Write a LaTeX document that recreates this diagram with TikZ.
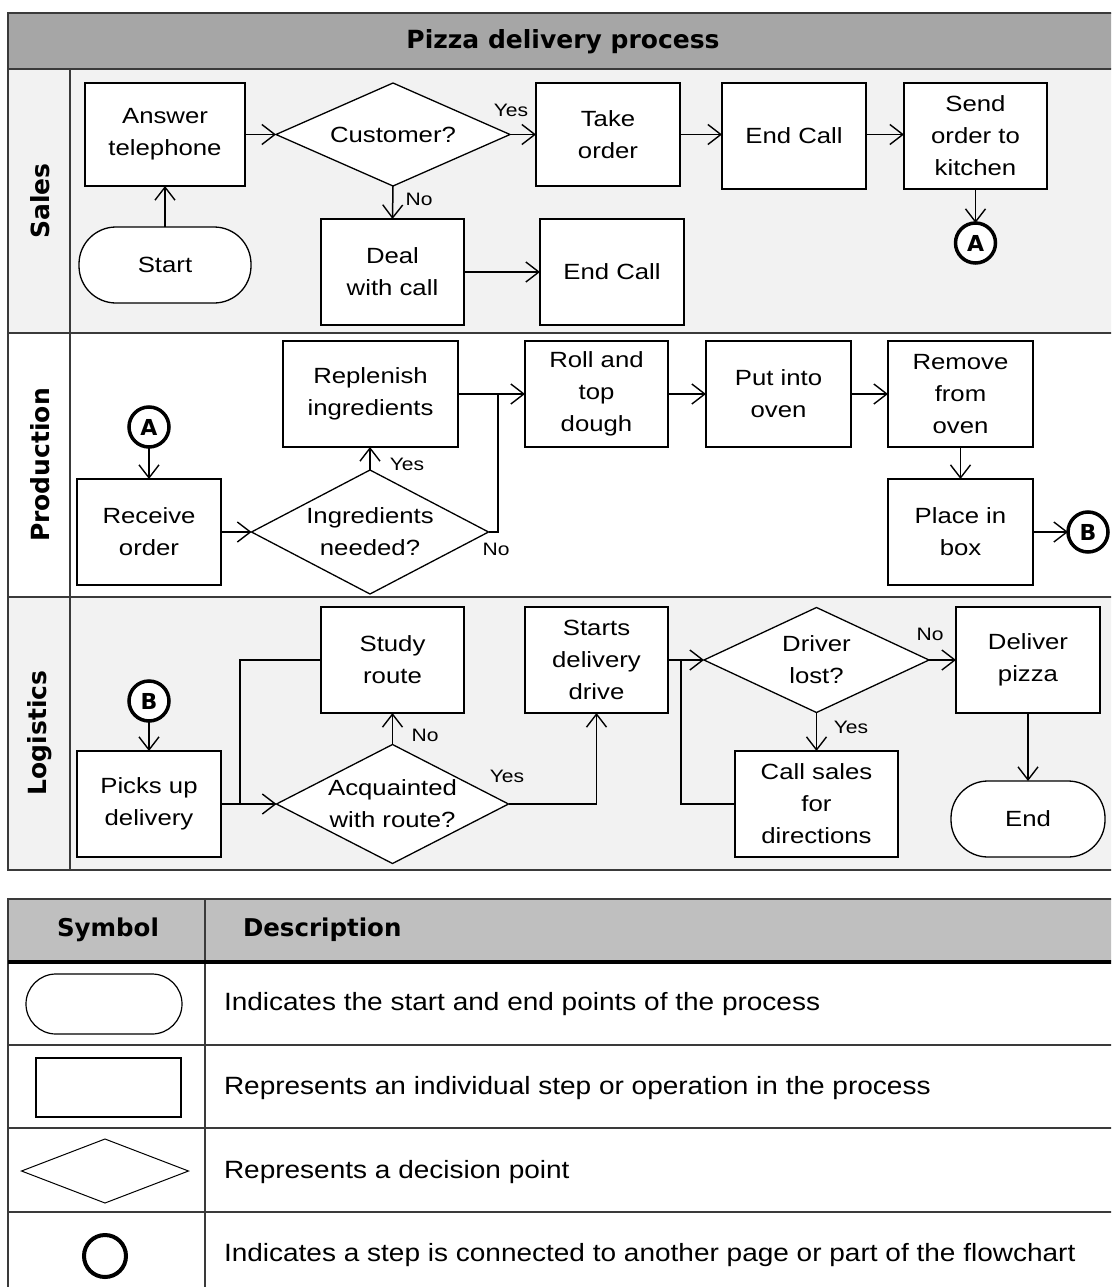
\documentclass[tikz,border=0pt]{standalone}
\usepackage{fontspec}
\setmainfont{Liberation Sans}
\newfontfamily\boxfont[FakeStretch=1.17]{Liberation Sans}
\newfontfamily\legfont[FakeStretch=1.12]{Liberation Sans}
\newfontfamily\headfont{DejaVu Sans}
\usetikzlibrary{shapes.geometric,arrows.meta,calc}

\definecolor{titlegray}{HTML}{A6A6A6}
\definecolor{lanegray}{HTML}{F2F2F2}
\definecolor{headgray}{HTML}{BFBFBF}
\definecolor{rulegray}{HTML}{3A3A3A}

\tikzset{
  every node/.style={inner sep=0pt, outer sep=0pt},
  txt/.style={font=\boxfont\fontsize{22}{32}\selectfont, align=center},
  stepbox/.style={draw, fill=white, line width=1.5pt, txt},
  terminal/.style={draw, fill=white, rounded corners=37pt, line width=1.3pt, txt},
  decision/.style={draw, fill=white, diamond, line width=1.3pt},
  conn/.style={circle, draw, fill=white, line width=3.5pt, minimum size=40pt,
               font=\headfont\bfseries\fontsize{22}{26}\selectfont},
  arr/.style={line width=1.5pt, -{Straight Barb[length=13pt,width=20pt,line width=1.4pt]}},
  lnk/.style={line width=1.5pt},
  tag/.style={font=\boxfont\fontsize{18}{22}\selectfont},
  lanename/.style={font=\headfont\bfseries\fontsize{25}{30}\selectfont, rotate=90},
  frame/.style={draw=rulegray, line width=2.5pt},
  headtxt/.style={font=\headfont\bfseries\fontsize{24.5}{30}\selectfont},
  legtxt/.style={font=\legfont\fontsize{25}{30}\selectfont, anchor=west},
}

\begin{document}
\begin{tikzpicture}[x=1pt, y=-1pt]
\useasboundingbox (0,0) rectangle (1111,1287);
\begin{scope}
\clip (0,0) rectangle (1111,1287);
\fill[white] (0,0) rectangle (1111,1287);

% ---------- swimlane frame ----------
\fill[titlegray] (8,13) rectangle (1130,69);
\fill[lanegray]  (8,69) rectangle (1130,333);
\fill[white]     (8,333) rectangle (1130,597);
\fill[lanegray]  (8,597) rectangle (1130,870);
\draw[frame] (1130,13) -- (8,13) -- (8,870) -- (1130,870);
\draw[frame] (8,69) -- (1130,69);
\draw[frame] (8,333) -- (1130,333);
\draw[frame] (8,597) -- (1130,597);
\draw[frame] (70,69) -- (70,870);

\node[headtxt, font=\headfont\bfseries\fontsize{25}{30}\selectfont] (title) at (563,42) {Pizza delivery process};
\node[lanename] (lsales) at (40,201) {Sales};
\node[lanename] (lprod)  at (40,465) {Production};
\node[lanename] (llog)   at (40,733) {Logistics};

% ---------- Sales ----------
\node[stepbox, minimum width=160pt, minimum height=103pt] (answer) at (165,134.5) {Answer\\telephone};
\node[decision, minimum width=234pt, minimum height=103pt,
      label={[txt]center:Customer?}] (cust) at (393,134.5) {};
\node[stepbox, minimum width=144pt, minimum height=103pt] (take) at (608,134.5) {Take\\order};
\node[stepbox, minimum width=144pt, minimum height=106pt] (endcall) at (794,136) {End Call};
\node[stepbox, minimum width=143pt, minimum height=106pt] (send) at (975.5,136) {Send\\order to\\kitchen};
\node[terminal, minimum width=172pt, minimum height=76pt] (start) at (165,265) {Start};
\node[stepbox, minimum width=143pt, minimum height=106pt] (deal) at (392.5,272) {Deal\\with call};
\node[stepbox, minimum width=144pt, minimum height=106pt] (endcall2) at (612,272) {End Call};
\node[conn] (outA) at (975.5,243) {A};

\draw[arr] (start.north) -- (answer.south);
\draw[arr] (answer.east) -- (cust.west);
\draw[arr] (cust.east) -- (take.west);
\draw[arr] (take.east) -- (endcall.west |- take.east);
\draw[arr] (endcall.east |- take.east) -- (send.west |- take.east);
\draw[arr] (send.south) -- (outA.north);
\draw[arr] (cust.south) -- (deal.north);
\draw[arr] (deal.east) -- (endcall2.west);
\node[tag] (yes1) at (511,110) {Yes};
\node[tag] (no1) at (419,199) {No};

% ---------- Production ----------
\node[conn] (inA) at (149,427) {A};
\node[stepbox, minimum width=144pt, minimum height=106pt] (recv) at (149,532) {Receive\\order};
\node[decision, minimum width=237pt, minimum height=124pt,
      label={[txt]center:Ingredients\\needed?}] (ingr) at (370,532) {};
\node[stepbox, minimum width=175pt, minimum height=106pt] (repl) at (370.5,394) {Replenish\\ingredients};
\node[stepbox, minimum width=143pt, minimum height=106pt] (roll) at (596.5,394) {Roll and\\top\\dough};
\node[stepbox, minimum width=145pt, minimum height=106pt] (oven) at (778.5,394) {Put into\\oven};
\node[stepbox, minimum width=145pt, minimum height=106pt] (remove) at (960.5,394) {Remove\\from\\oven};
\node[stepbox, minimum width=145pt, minimum height=106pt] (place) at (960.5,532) {Place in\\box};
\node[conn] (outB) at (1088,532) {B};
\coordinate (jn1) at (498,394);

\draw[arr] (inA.south) -- (recv.north);
\draw[arr] (recv.east) -- (ingr.west);
\draw[arr] (ingr.north) -- (ingr.north |- repl.south);
\draw[lnk] (ingr.east) -| (jn1);
\draw[arr] (repl.east) -- (roll.west);
\draw[arr] (roll.east) -- (oven.west);
\draw[arr] (oven.east) -- (remove.west);
\draw[arr] (remove.south) -- (place.north);
\draw[arr] (place.east) -- (outB.west);
\node[tag] (yes2) at (407,464) {Yes};
\node[tag] (no2) at (496,549) {No};

% ---------- Logistics ----------
\node[conn] (inB) at (149,701) {B};
\node[stepbox, minimum width=144pt, minimum height=106pt] (pick) at (149,804) {Picks up\\delivery};
\node[decision, minimum width=232pt, minimum height=119pt,
      label={[txt]center:Acquainted\\with route?}] (acq) at (392.5,804) {};
\node[stepbox, minimum width=143pt, minimum height=106pt] (study) at (392.5,660) {Study\\route};
\node[stepbox, minimum width=143pt, minimum height=106pt] (drive) at (596.5,660) {Starts\\delivery\\drive};
\node[decision, minimum width=225pt, minimum height=105pt,
      label={[txt]center:Driver\\lost?}] (lost) at (816.5,660) {};
\node[stepbox, minimum width=144pt, minimum height=106pt] (deliver) at (1028,660) {Deliver\\pizza};
\node[stepbox, minimum width=163pt, minimum height=106pt] (call) at (816.5,804) {Call sales\\for\\directions};
\node[terminal, minimum width=154pt, minimum height=76pt] (finish) at (1028,819) {End};
\coordinate (jn2) at (240,804);
\coordinate (jn3) at (681,660);

\draw[arr] (inB.south) -- (pick.north);
\draw[arr] (pick.east) -- (acq.west);
\draw[lnk] (study.west) -| (jn2);
\draw[arr] (acq.north) -- (study.south);
\draw[arr] (acq.east) -| (drive.south);
\draw[arr] (drive.east) -- (lost.west);
\draw[lnk] (call.west) -| (jn3);
\draw[arr] (lost.east) -- (deliver.west);
\draw[arr] (lost.south) -- (call.north);
\draw[arr] (deliver.south) -- (finish.north);
\node[tag] (no3) at (425,735) {No};
\node[tag] (yes3) at (507,776) {Yes};
\node[tag] (no4) at (930,634) {No};
\node[tag] (yes4) at (851,727) {Yes};

% ---------- legend table ----------
\fill[headgray] (8,899) rectangle (1130,962);
\draw[frame] (1130,899) -- (8,899) -- (8,1300);
\draw[frame] (205,899) -- (205,1300);
\draw[black, line width=4pt] (8,962) -- (1130,962);
\draw[frame, line width=2pt] (8,1045) -- (1130,1045);
\draw[frame, line width=2pt] (8,1128) -- (1130,1128);
\draw[frame, line width=2pt] (8,1212) -- (1130,1212);

\node[headtxt] (hsym) at (108,930) {Symbol};
\node[headtxt, anchor=west] (hdesc) at (243,930) {Description};

\node[draw, rounded corners=30pt, line width=1.2pt, minimum width=156pt, minimum height=60pt] (symterm) at (104,1004) {};
\node[draw, line width=1.3pt, minimum width=145pt, minimum height=59pt] (symstep) at (108.5,1087.5) {};
\node[draw, diamond, line width=1pt, minimum width=167pt, minimum height=64pt] (symdec) at (105,1171) {};
\node[circle, draw, line width=4pt, minimum size=42pt] (symconn) at (105,1256) {};

\node[legtxt] (dterm) at (224,1004) {Indicates the start and end points of the process};
\node[legtxt] (dstep) at (224,1088) {Represents an individual step or operation in the process};
\node[legtxt] (ddec)  at (224,1172) {Represents a decision point};
\node[legtxt] (dconn) at (224,1255) {Indicates a step is connected to another page or part of the flowchart};
\end{scope}
\end{tikzpicture}
\end{document}
